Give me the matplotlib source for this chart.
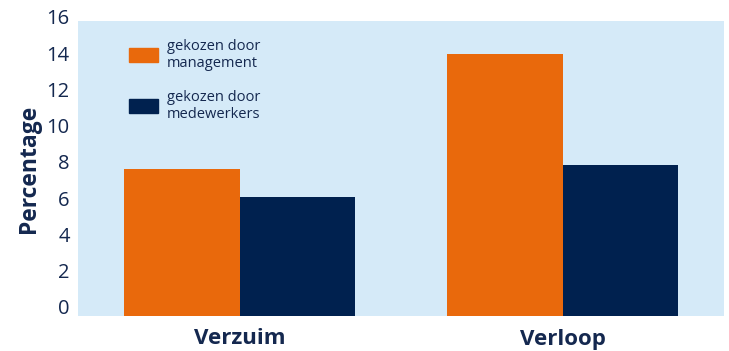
import matplotlib
matplotlib.use("Agg")
import matplotlib.pyplot as plt
from matplotlib.patches import Patch
from matplotlib.transforms import ScaledTranslation
import numpy as np

categories = ["Verzuim", "Verloop"]
management = [8.0, 14.2]
medewerkers = [6.45, 8.2]
series_labels = ["gekozen door\nmanagement", "gekozen door\nmedewerkers"]
y_ticks = [0, 2, 4, 6, 8, 10, 12, 14, 16]

ORANGE = "#E9690C"
NAVY = "#00214F"
BG = "#D5EAF8"
TEXT = "#14284F"

plt.rcParams["font.family"] = ["Open Sans", "DejaVu Sans"]

fig = plt.figure(figsize=(7.29, 3.51), dpi=100)
ax = fig.add_axes([78 / 729, 35 / 351, 646 / 729, 295 / 351])
ax.set_facecolor(BG)

x = np.arange(len(categories))
w = 0.357
ax.bar(x - w / 2, management, width=w, color=ORANGE, label=series_labels[0])
ax.bar(x + w / 2, medewerkers, width=w, color=NAVY, label=series_labels[1])

ax.set_xlim(-0.5, 1.5)
ax.set_ylim(0, 16)
for s in ax.spines.values():
    s.set_visible(False)

ax.set_xticks(x)
ax.set_xticklabels(categories, fontsize=16, fontweight="bold", color=TEXT)
ax.tick_params(axis="x", length=0, pad=9)

ax.set_yticks(y_ticks)
ax.set_yticklabels([str(v) for v in y_ticks], fontsize=14.5, color=TEXT)
ax.tick_params(axis="y", length=0, pad=6)
# tick labels sit slightly above their gridline positions
for v, lab in zip(y_ticks, ax.get_yticklabels()):
    dy = (9 - 0.31 * v) / 100
    lab.set_transform(lab.get_transform() + ScaledTranslation(0, dy, fig.dpi_scale_trans))

ax.set_ylabel("Percentage", fontsize=16.5, fontweight="bold", color=TEXT, labelpad=4)

handles = [Patch(color=ORANGE), Patch(color=NAVY)]
ax.legend(handles, series_labels, loc="upper left", bbox_to_anchor=(0.058, 0.985),
          frameon=False, fontsize=10.5, handlelength=2.0, handleheight=1.1,
          labelspacing=1.3, handletextpad=0.6, labelcolor=TEXT)

fig.savefig("out.png", dpi=100)
